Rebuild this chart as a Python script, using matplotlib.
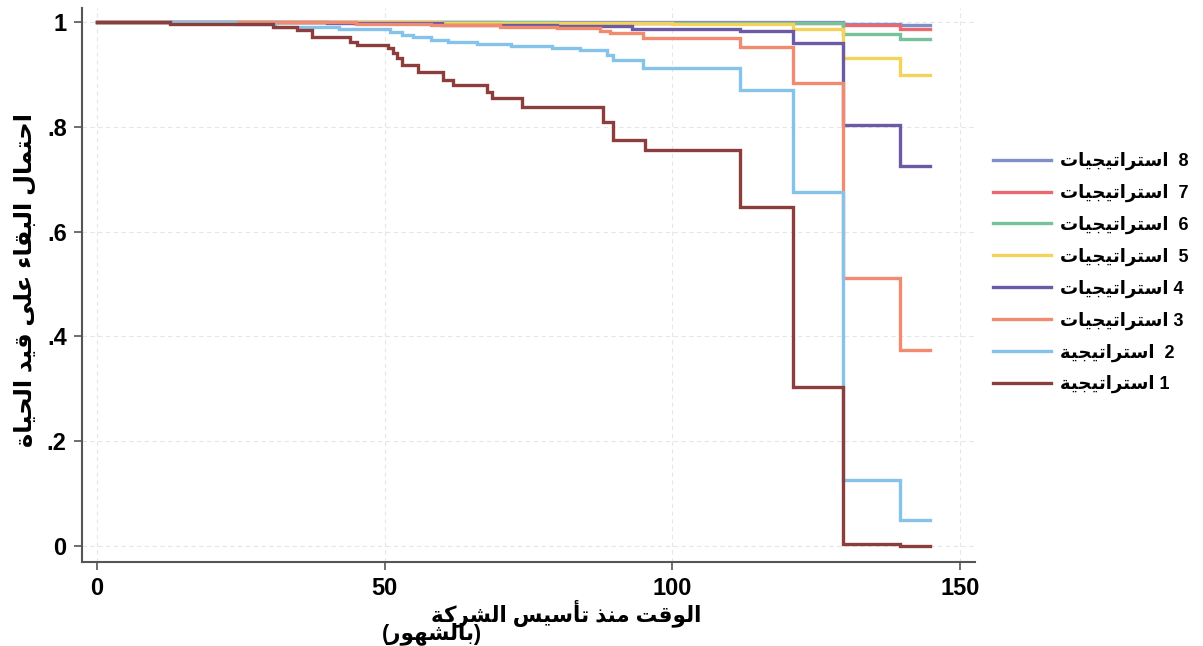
import matplotlib
matplotlib.use("Agg")
import matplotlib.pyplot as plt

# ---- Arabic contextual shaping (isolated, final, initial, medial) ----
ARABIC_FORMS = {
    "\u0621": ("\uFE80", "\uFE80", None, None),      # ء
    "\u0623": ("\uFE83", "\uFE84", None, None),      # أ
    "\u0627": ("\uFE8D", "\uFE8E", None, None),      # ا
    "\u0628": ("\uFE8F", "\uFE90", "\uFE91", "\uFE92"),  # ب
    "\u0629": ("\uFE93", "\uFE94", None, None),      # ة
    "\u062A": ("\uFE95", "\uFE96", "\uFE97", "\uFE98"),  # ت
    "\u062C": ("\uFE9D", "\uFE9E", "\uFE9F", "\uFEA0"),  # ج
    "\u062D": ("\uFEA1", "\uFEA2", "\uFEA3", "\uFEA4"),  # ح
    "\u062F": ("\uFEA9", "\uFEAA", None, None),      # د
    "\u0630": ("\uFEAB", "\uFEAC", None, None),      # ذ
    "\u0631": ("\uFEAD", "\uFEAE", None, None),      # ر
    "\u0633": ("\uFEB1", "\uFEB2", "\uFEB3", "\uFEB4"),  # س
    "\u0634": ("\uFEB5", "\uFEB6", "\uFEB7", "\uFEB8"),  # ش
    "\u0639": ("\uFEC9", "\uFECA", "\uFECB", "\uFECC"),  # ع
    "\u0642": ("\uFED5", "\uFED6", "\uFED7", "\uFED8"),  # ق
    "\u0643": ("\uFED9", "\uFEDA", "\uFEDB", "\uFEDC"),  # ك
    "\u0644": ("\uFEDD", "\uFEDE", "\uFEDF", "\uFEE0"),  # ل
    "\u0645": ("\uFEE1", "\uFEE2", "\uFEE3", "\uFEE4"),  # م
    "\u0646": ("\uFEE5", "\uFEE6", "\uFEE7", "\uFEE8"),  # ن
    "\u0647": ("\uFEE9", "\uFEEA", "\uFEEB", "\uFEEC"),  # ه
    "\u0648": ("\uFEED", "\uFEEE", None, None),      # و
    "\u0649": ("\uFEEF", "\uFEF0", None, None),      # ى
    "\u064A": ("\uFEF1", "\uFEF2", "\uFEF3", "\uFEF4"),  # ي
}
NON_JOINING = {"\u0621"}


def shape_arabic(text):
    """Return the visual (left-to-right) form of a right-to-left Arabic string."""
    out = []
    for i, ch in enumerate(text):
        forms = ARABIC_FORMS.get(ch)
        if forms is None:
            out.append(ch)
            continue
        prev = text[i - 1] if i > 0 else None
        nxt = text[i + 1] if i + 1 < len(text) else None
        join_prev = (ch not in NON_JOINING and prev in ARABIC_FORMS
                     and ARABIC_FORMS[prev][2] is not None)
        join_next = forms[2] is not None and nxt in ARABIC_FORMS and nxt not in NON_JOINING
        iso, fin, ini, med = forms
        if join_prev and join_next:
            out.append(med)
        elif join_prev:
            out.append(fin)
        elif join_next:
            out.append(ini)
        else:
            out.append(iso)
    visual = "".join(out)[::-1]
    return visual.translate(str.maketrans("()", ")("))


# ---- Kaplan-Meier survival estimates by number of strategies ----
t1 = [0, 12.7, 30.6, 34.8, 37.4, 44.0, 45.2, 50.6, 51.5, 52.1, 53.0, 55.8, 60.1,
      61.9, 67.8, 68.7, 73.9, 88.0, 89.7, 95.3, 111.8, 121.0, 129.7, 139.6, 144.8]
s1 = [1.0, 0.996, 0.991, 0.985, 0.972, 0.963, 0.956, 0.950, 0.941, 0.931, 0.918,
      0.905, 0.889, 0.880, 0.866, 0.855, 0.838, 0.809, 0.775, 0.756, 0.648, 0.303,
      0.003, 0.0, 0.0]

t2 = [0, 24, 31, 42, 51, 53, 55, 58, 61, 66, 72, 79, 84, 88.6, 89.7, 94.9,
      111.8, 121.0, 129.7, 139.6, 144.8]
s2 = [1.0, 0.996, 0.990, 0.986, 0.981, 0.976, 0.971, 0.966, 0.962, 0.959, 0.955,
      0.951, 0.947, 0.937, 0.927, 0.912, 0.870, 0.676, 0.126, 0.050, 0.050]

t3 = [0, 45, 58, 70, 80, 87.4, 89.2, 94.9, 111.8, 121.0, 129.7, 139.6, 144.8]
s3 = [1.0, 0.997, 0.994, 0.991, 0.988, 0.983, 0.979, 0.970, 0.953, 0.883, 0.511,
      0.374, 0.374]

t4 = [0, 40, 60, 80, 93, 111.8, 121.0, 129.7, 139.6, 144.8]
s4 = [1.0, 0.998, 0.995, 0.992, 0.986, 0.983, 0.960, 0.803, 0.726, 0.726]

t5 = [0, 60, 100, 121.0, 129.7, 139.6, 144.8]
s5 = [1.0, 0.999, 0.997, 0.987, 0.932, 0.900, 0.900]

t6 = [0, 80, 129.7, 139.6, 144.8]
s6 = [1.0, 0.998, 0.978, 0.967, 0.967]

t7 = [0, 70, 129.7, 139.6, 144.8]
s7 = [1.0, 0.999, 0.995, 0.987, 0.987]

t8 = [0, 129.7, 139.6, 144.8]
s8 = [1.0, 0.997, 0.994, 0.994]

times = [t1, t2, t3, t4, t5, t6, t7, t8]
survival = [s1, s2, s3, s4, s5, s6, s7, s8]
group_numbers = [1, 2, 3, 4, 5, 6, 7, 8]
group_words = ["استراتيجية", "استراتيجية", "استراتيجيات", "استراتيجيات",
               "استراتيجيات", "استراتيجيات", "استراتيجيات", "استراتيجيات"]
group_gaps = [" ", "  ", " ", " ", "  ", "  ", "  ", "  "]
colors = ["#8e3d3d", "#86c3ea", "#f08b70", "#6c5aa6",
          "#f4d35a", "#76c29a", "#e8696f", "#7f8fc8"]

x_ticks = [0, 50, 100, 150]
y_ticks = [0, 0.2, 0.4, 0.6, 0.8, 1.0]
y_tick_labels = ["0", ".2", ".4", ".6", ".8", "1"]

x_label_main = "الوقت منذ تأسيس الشركة"
x_label_unit = "(بالشهور)"
y_label = "احتمال البقاء على قيد الحياة"

# ---- figure ----
plt.rcParams["font.family"] = ["Liberation Sans", "DejaVu Sans"]
plt.rcParams["font.weight"] = "bold"

W, H = 1203, 646
fig = plt.figure(figsize=(W / 100, H / 100), dpi=100)
ax = fig.add_axes([82 / W, 1 - 562 / H, (975 - 82) / W, (562 - 8) / H])

lines = {}
for k in range(7, -1, -1):
    (ln,) = ax.step(times[k], survival[k], where="post", color=colors[k],
                    lw=2.4, solid_joinstyle="miter")
    lines[k] = ln

ax.set_xlim(-2.6, 152.6)
ax.set_ylim(-0.0305, 1.027)
ax.set_xticks(x_ticks)
ax.set_yticks(y_ticks)
ax.set_yticklabels(y_tick_labels)
ax.grid(True, color="#e6e6e6", lw=0.8, ls=(0, (4, 3)))
ax.set_axisbelow(True)

for side in ("top", "right"):
    ax.spines[side].set_visible(False)
for side in ("left", "bottom"):
    ax.spines[side].set_color("#555555")
    ax.spines[side].set_linewidth(1.5)
ax.tick_params(axis="both", direction="out", length=6, width=1.2,
               color="#555555", labelsize=17, pad=5)

# axis titles
fig.text(25 / W, 1 - 280 / H, shape_arabic(y_label), rotation=90,
         ha="center", va="center", fontsize=17.5, fontweight="bold")
fig.text(701 / W, 1 - 613 / H, shape_arabic(x_label_main),
         ha="right", va="center", fontsize=15.5, fontweight="bold")
fig.text(482 / W, 1 - 634 / H, shape_arabic(x_label_unit),
         ha="right", va="center", fontsize=15.5, fontweight="bold")

handles = [lines[k] for k in range(7, -1, -1)]
labels = [shape_arabic(f"{group_numbers[k]}{group_gaps[k]}{group_words[k]}")
          for k in range(7, -1, -1)]
fig.legend(handles, labels, loc="upper left",
           bbox_to_anchor=(993 / W, 1 - 152 / H), frameon=False,
           fontsize=13, handlelength=3.2, handletextpad=0.5,
           labelspacing=0.755, borderpad=0, borderaxespad=0)

fig.savefig("out.png", dpi=100)
